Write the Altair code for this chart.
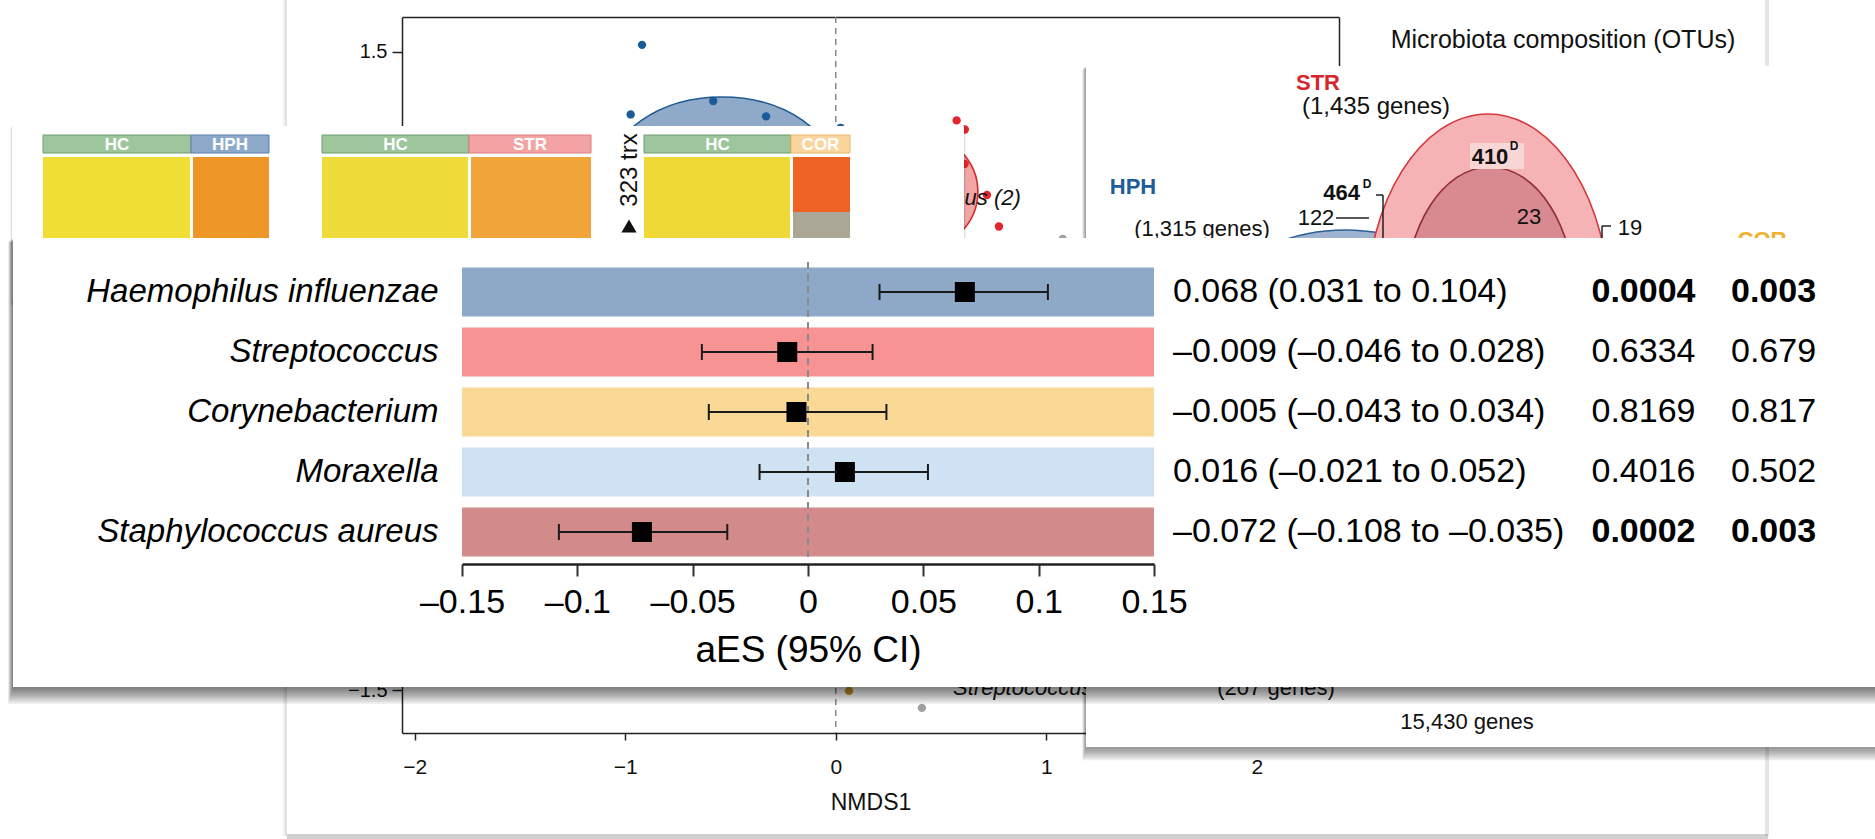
import altair as alt
import pandas as pd

# ================= main panel: forest plot =================
taxa = ["Haemophilus influenzae", "Streptococcus", "Corynebacterium",
        "Moraxella", "Staphylococcus aureus"]
effect = [0.068, -0.009, -0.005, 0.016, -0.072]
ci_low = [0.031, -0.046, -0.043, -0.021, -0.108]
ci_high = [0.104, 0.028, 0.034, 0.052, -0.035]
ci_text = ["0.068 (0.031 to 0.104)", "–0.009 (–0.046 to 0.028)",
           "–0.005 (–0.043 to 0.034)", "0.016 (–0.021 to 0.052)",
           "–0.072 (–0.108 to –0.035)"]
p_values = ["0.0004", "0.6334", "0.8169", "0.4016", "0.0002"]
fdr_values = ["0.003", "0.679", "0.817", "0.502", "0.003"]
significant = [True, False, False, False, True]
bar_colors = ["#8ea9c8", "#f79392", "#fad895", "#cfe2f3", "#d38a8b"]
x_ticks = [-0.15, -0.1, -0.05, 0, 0.05, 0.1, 0.15]

# ================= background panel: NMDS ordination (partly hidden) =================
nmds_group = ["HPH", "HPH", "HPH", "HPH", "HPH", "STR", "STR", "STR", "STR", "STR",
              "Other", "COR", "Other"]
nmds1 = [-0.92, -0.974, -0.582, -0.331, 0.023, 0.574, 0.613, 0.612, 0.718, 0.775,
         1.078, 0.063, 0.409]
nmds2 = [1.533, 1.206, 1.269, 1.197, 1.143, 1.178, 1.135, 0.973, 0.827, 0.679,
         0.621, -1.504, -1.584]
group_names = ["HPH", "STR", "COR", "Other"]
group_colors = ["#1b5b96", "#e3262b", "#c7952b", "#a0a0a0"]
nmds_x_ticks = [-2, -1, 0, 1, 2]
nmds_y_ticks = [-1.5, 1.5]
nmds_x_domain = [-2.06, 2.39]
nmds_y_domain = [-1.702, 1.664]
hull_names = ["HPH", "STR"]
hull_x = [-0.54, 0.39]
hull_y = [0.912, 0.842]
nmds_labels = ["Staphylococcus aureus (2)", "Streptococcus"]
nmds_label_x = [0.879, 0.557]
nmds_label_y = [0.813, -1.49]

# ================= background panels: heat-map headers and Venn counts =================
hm_header_text = ["HC", "HPH", "HC", "STR", "HC", "COR"]
hm_header_fill = ["#9dc69d", "#8eaacb", "#9dc69d", "#f4a3a3", "#9dc69d", "#fad59c"]
hm_header_line = ["#6f9f6f", "#5b7ea8", "#6f9f6f", "#dd7c7c", "#6f9f6f", "#e8b870"]
hm_body_fill = ["#f0de34", "#ee9628", "#efdc3a", "#f0a43a", "#eed936", "#ee6226"]

FONT = "Liberation Sans"
OX, OY = 462, 262          # page position of the forest-plot view origin
W, H = 692, 300

one = pd.DataFrame({"k": [0]})


def vx(x):
    return alt.value(x - OX)


def vy(y):
    return alt.value(y - OY)


def rect(x1, y1, x2, y2, **style):
    return alt.Chart(one).mark_rect(**style).encode(x=vx(x1), x2=vx(x2), y=vy(y1), y2=vy(y2))


def rule(x1, y1, x2, y2, **style):
    return alt.Chart(one).mark_rule(**style).encode(x=vx(x1), x2=vx(x2), y=vy(y1), y2=vy(y2))


def label(x, y, s, size=22, weight="normal", color="#111", align="center", angle=0,
          style="normal"):
    return alt.Chart(one).mark_text(text=s, font=FONT, fontSize=size, fontWeight=weight,
                                    color=color, align=align, baseline="middle",
                                    angle=angle, fontStyle=style).encode(x=vx(x), y=vy(y))


def ellipse_path(b):
    k = 0.5523
    return (f"M 1 0 C 1 {k*b:.4f} {k} {b:.4f} 0 {b:.4f} C {-k} {b:.4f} -1 {k*b:.4f} -1 0 "
            f"C -1 {-k*b:.4f} {-k} {-b:.4f} 0 {-b:.4f} C {k} {-b:.4f} 1 {-k*b:.4f} 1 0 Z")


def ellipse(cx, cy, rx, ry, fill, stroke, opacity=1.0):
    return alt.Chart(one).mark_point(shape=ellipse_path(ry / rx), size=4 * rx * rx,
                                     filled=True, fill=fill, stroke=stroke, strokeWidth=1.6,
                                     opacity=opacity, fillOpacity=opacity).encode(
        x=vx(cx), y=vy(cy))


def shadow(x1, y1, x2, y2, n=6, op=0.09, spread=2.2):
    return [rect(x1 - i * 0.6, y1 + i * 0.5, x2 + i * 0.6, y2 + i * spread, fill="#000000",
                 opacity=op) for i in range(1, n + 1)]


# ---------------- NMDS background chart ----------------
nx_scale = alt.Scale(domain=nmds_x_domain, range=[402 - OX, 1339 - OX], nice=False, zero=False)
ny_scale = alt.Scale(domain=nmds_y_domain, range=[733 - OY, 17 - OY], nice=False, zero=False)
nx_axis = alt.Axis(orient="bottom", offset=733 - OY - H, values=nmds_x_ticks, format="d",
                   title="NMDS1", grid=False, tickSize=7, tickColor="#222", domainColor="#222",
                   domainWidth=1.5, tickWidth=1.5, labelFont=FONT, labelFontSize=21,
                   labelColor="#111", labelPadding=16, titleFont=FONT, titleFontSize=23,
                   titleFontWeight="normal", titleColor="#111", titlePadding=14,
                   labelFlush=False)
ny_axis = alt.Axis(orient="left", offset=OX - 402, values=nmds_y_ticks, format=".1f",
                   title=None, grid=False, tickSize=10, tickColor="#222", domainColor="#222",
                   domainWidth=1.5, tickWidth=1.5, labelFont=FONT, labelFontSize=20,
                   labelColor="#111", labelPadding=5, labelFlush=False)

ndf = pd.DataFrame({"group": nmds_group, "n1": nmds1, "n2": nmds2})
hdf = pd.DataFrame({"group": hull_names, "n1": hull_x, "n2": hull_y})
ldf = pd.DataFrame({"label": nmds_labels, "n1": nmds_label_x, "n2": nmds_label_y})

NX = lambda f: alt.X(f, scale=nx_scale, axis=nx_axis)
NY = lambda f: alt.Y(f, scale=ny_scale, axis=ny_axis)

hull_hph = alt.Chart(hdf).transform_filter("datum.group == 'HPH'").mark_point(
    shape=ellipse_path(80 / 114), size=4 * 114 * 114, filled=True, fill="#8fa9c9",
    stroke="#1f5a94", strokeWidth=1.6, opacity=1).encode(x=NX("n1:Q"), y=NY("n2:Q"))
hull_str = alt.Chart(hdf).transform_filter("datum.group == 'STR'").mark_point(
    shape=ellipse_path(58 / 60), size=4 * 60 * 60, filled=True, fill="#f2a5a5",
    stroke="#d52b2b", strokeWidth=1.6, opacity=1).encode(x=NX("n1:Q"), y=NY("n2:Q"))
nmds_zero = alt.Chart(one).transform_calculate(
    z="0", yt=str(nmds_y_domain[1]), yb=str(nmds_y_domain[0])).mark_rule(
    color="#888", strokeDash=[6, 5], strokeWidth=1.5).encode(
    x=NX("z:Q"), y=NY("yt:Q"), y2="yb:Q")
nmds_pts = alt.Chart(ndf).mark_circle(size=70, opacity=1).encode(
    x=NX("n1:Q"), y=NY("n2:Q"),
    color=alt.Color("group:N", scale=alt.Scale(domain=group_names, range=group_colors),
                    legend=None))
nmds_lab_r = alt.Chart(ldf).transform_filter("datum.n2 > 0").mark_text(
    font=FONT, fontSize=22, fontStyle="italic", align="right", baseline="middle",
    color="#111").encode(x=NX("n1:Q"), y=NY("n2:Q"), text="label:N")
nmds_lab_l = alt.Chart(ldf).transform_filter("datum.n2 < 0").mark_text(
    font=FONT, fontSize=22, fontStyle="italic", align="left", baseline="middle",
    color="#111").encode(x=NX("n1:Q"), y=NY("n2:Q"), text="label:N")
nmds_main = alt.layer(hull_hph, hull_str, nmds_zero, nmds_pts, nmds_lab_r, nmds_lab_l)

nmds_frame = alt.Chart(one).transform_calculate(z="0").mark_point(opacity=0).encode(
    x=alt.X("z:Q", scale=nx_scale,
            axis=alt.Axis(orient="top", offset=OY - 17, ticks=False, labels=False, title=None,
                          grid=False, domainColor="#222", domainWidth=1.5)),
    y=alt.Y("z:Q", scale=ny_scale,
            axis=alt.Axis(orient="right", offset=1339 - OX - W, ticks=False, labels=False,
                          title=None, grid=False, domainColor="#222", domainWidth=1.5)))

# ---------------- cards ----------------
decor = []
# NMDS card edges (shadow strips only)
decor += [rect(283, 0, 287, 836, fill="#000", opacity=0.06),
          rect(285, 0, 287, 836, fill="#000", opacity=0.06),
          rect(287, 834, 1768, 839, fill="#000", opacity=0.18),
          rect(1765, 0, 1769, 836, fill="#000", opacity=0.10)]
decor.append(label(1563, 40, "Microbiota composition (OTUs)", size=25))

# heat-map card
decor += shadow(12, 126, 964, 300, n=3, op=0.05)
decor.append(rect(12, 126, 964, 300, fill="#ffffff"))
hm_x = [(43, 191), (191, 269), (322, 469), (469, 591), (644, 791), (791, 850)]
hm_bx = [(43, 190), (193, 269), (322, 468), (471, 591), (644, 790), (793, 850)]
for (x1, x2), (b1, b2), t, f, ln, bf in zip(hm_x, hm_bx, hm_header_text, hm_header_fill,
                                             hm_header_line, hm_body_fill):
    decor.append(rect(x1, 135, x2, 153, fill=f, stroke=ln, strokeWidth=1))
    decor.append(label((x1 + x2) / 2, 144.5, t, size=17, weight="bold", color="#ffffff"))
    decor.append(rect(b1, 157, b2, 245, fill=bf))
decor.append(rect(793, 212, 850, 245, fill="#aaa796"))
decor.append(label(630, 170, "323 trx", size=24, angle=270, color="#111"))
decor.append(alt.Chart(one).mark_point(shape="triangle-up", size=230, filled=True,
                                        color="#111", opacity=1).encode(x=vx(629), y=vy(226)))

# Venn card
decor += shadow(1086, 66, 1885, 747, n=6, op=0.08)
decor.append(rect(1086, 66, 1885, 747, fill="#ffffff"))
decor.append(ellipse(1345, 420, 190, 190, "#9db3cf", "#2d5f96"))
decor.append(ellipse(1488, 310, 122, 196, "#f5b3b5", "#d6363c"))
decor.append(ellipse(1490, 300, 85, 133, "#d98a90", "#8e2f37"))
decor.append(rect(1470, 143, 1524, 169, fill="#f9d6d6"))
decor.append(label(1490, 157, "410", weight="bold"))
decor.append(label(1514, 146, "D", size=12, weight="bold"))
decor.append(label(1360, 193, "464", weight="bold", align="right"))
decor.append(label(1367, 184, "D", size=12, weight="bold"))
decor.append(rule(1376, 195, 1383, 195, color="#222", strokeWidth=1.5))
decor.append(rule(1383, 195, 1383, 240, color="#222", strokeWidth=1.5))
decor.append(label(1316, 218, "122"))
decor.append(rule(1336, 218, 1369, 218, color="#222", strokeWidth=1.5))
decor.append(label(1529, 217, "23"))
decor.append(label(1630, 228, "19"))
decor.append(rule(1602, 226, 1611, 226, color="#222", strokeWidth=1.5))
decor.append(rule(1602, 226, 1602, 240, color="#222", strokeWidth=1.5))
decor.append(label(1762, 240, "COR", size=22, weight="bold", color="#f0b030"))
decor.append(label(1318, 83, "STR", size=22, weight="bold", color="#d7262c"))
decor.append(label(1376, 107, "(1,435 genes)", size=24))
decor.append(label(1133, 187, "HPH", size=22, weight="bold", color="#1f5c99"))
decor.append(label(1202, 229, "(1,315 genes)"))
decor.append(label(1276, 688, "(207 genes)"))
decor.append(label(1467, 722, "15,430 genes"))

# forest-plot card
decor += shadow(13, 238, 1885, 687, n=8, op=0.08, spread=2.1)
decor.append(rect(13, 238, 1885, 687, fill="#ffffff"))

# ---------------- forest plot ----------------
df = pd.DataFrame({"taxon": taxa, "es": effect, "lo": ci_low, "hi": ci_high})
rows = []
for i, t in enumerate(taxa):
    rows.append({"taxon": t, "col": "ci", "label": ci_text[i], "bold": False})
    rows.append({"taxon": t, "col": "p", "label": p_values[i], "bold": significant[i]})
    rows.append({"taxon": t, "col": "fdr", "label": fdr_values[i], "bold": significant[i]})
tdf = pd.DataFrame(rows)

yscale = alt.Scale(domain=taxa, paddingInner=0.1833, paddingOuter=0.0917)
y_axis = alt.Axis(title=None, orient="left", labelFont=FONT, labelFontSize=33,
                  labelFontStyle="italic", labelColor="#000", labelPadding=24, ticks=False,
                  domain=False, labelLimit=500, zindex=1)
y_enc = alt.Y("taxon:N", sort=taxa, scale=yscale, axis=y_axis)
xscale = alt.Scale(domain=[-0.15, 0.15], nice=False, zero=False)
x_axis = alt.Axis(orient="bottom", values=x_ticks, title="aES (95% CI)", grid=False,
                  labelExpr="replace(format(datum.value, '~g'), '−', '–')",
                  labelFont=FONT, labelFontSize=34, labelColor="#000",
                  labelPadding=9, tickSize=12, tickWidth=2, tickColor="#333",
                  domainColor="#222", domainWidth=2.5, offset=2,
                  titleFont=FONT, titleFontSize=37, titleFontWeight="normal",
                  titleColor="#000", titlePadding=13, labelFlush=False, zindex=1)
FX = lambda f: alt.X(f, scale=xscale, axis=x_axis)

bars = alt.Chart(df).mark_rect().encode(
    y=y_enc,
    color=alt.Color("taxon:N", scale=alt.Scale(domain=taxa, range=bar_colors), legend=None))
zero = alt.Chart(df).transform_calculate(z="0").mark_rule(
    color="#8a8a8a", strokeDash=[7, 5], strokeWidth=1.5).encode(x=FX("z:Q"))
whisk = alt.Chart(df).mark_rule(color="#1a1a1a", strokeWidth=2).encode(
    x=FX("lo:Q"), x2="hi:Q", y=y_enc)
cap_lo = alt.Chart(df).mark_tick(color="#1a1a1a", thickness=2, size=16, opacity=1).encode(
    x=FX("lo:Q"), y=y_enc)
cap_hi = alt.Chart(df).mark_tick(color="#1a1a1a", thickness=2, size=16, opacity=1).encode(
    x=FX("hi:Q"), y=y_enc)
squares = alt.Chart(df).mark_square(size=400, color="#000", opacity=1, filled=True).encode(
    x=FX("es:Q"), y=y_enc)
forest = alt.layer(bars, zero, whisk, cap_lo, cap_hi, squares)

col_scale = alt.Scale(domain=["ci", "gap1", "gap2", "p", "fdr"], type="point",
                      padding=0, range=[711, 1269])
y_tab = alt.Y("taxon:N", sort=taxa, scale=yscale, axis=None)
txt_norm = alt.Chart(tdf).transform_filter("!datum.bold").mark_text(
    align="left", baseline="middle", font=FONT, fontSize=34, color="#000").encode(
    x=alt.X("col:N", scale=col_scale, axis=None), y=y_tab, text="label:N")
txt_bold = alt.Chart(tdf).transform_filter("datum.bold").mark_text(
    align="left", baseline="middle", font=FONT, fontSize=34, fontWeight="bold",
    color="#000").encode(
    x=alt.X("col:N", scale=col_scale, axis=None), y=y_tab, text="label:N")
table = alt.layer(txt_norm, txt_bold)

chart = alt.layer(nmds_main, nmds_frame, *decor, forest, table).resolve_scale(
    x="independent", y="independent", color="independent").properties(
    width=W, height=H,
    autosize=alt.AutoSizeParams(type="none"),
    padding={"left": OX, "top": OY, "right": 1875 - OX - W, "bottom": 839 - OY - H},
    background="#ffffff",
).configure_view(stroke=None)

chart.save("out.html", embed_options={"renderer": "svg", "actions": False})
